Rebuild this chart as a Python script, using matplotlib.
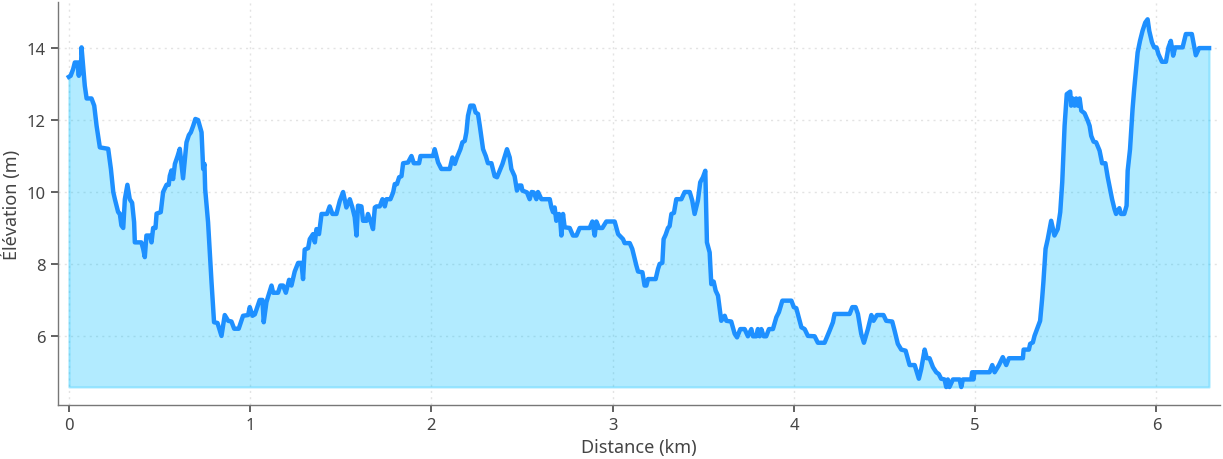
import matplotlib
matplotlib.use("Agg")
import matplotlib.pyplot as plt
import numpy as np

plt.rcParams['font.family'] = ['Noto Sans', 'DejaVu Sans']

distance_km = [
    0.000, 0.010, 0.024, 0.033, 0.048, 0.055, 0.060, 0.066, 0.070, 0.079, 0.088, 0.098,
    0.125, 0.140, 0.153, 0.171, 0.217, 0.232, 0.245, 0.254, 0.272, 0.281, 0.290, 0.300,
    0.309, 0.323, 0.336, 0.349, 0.360, 0.364, 0.400, 0.410, 0.419, 0.428, 0.447, 0.456,
    0.465, 0.478, 0.484, 0.507, 0.520, 0.539, 0.551, 0.557, 0.566, 0.575, 0.585, 0.600,
    0.612, 0.630, 0.649, 0.662, 0.673, 0.686, 0.698, 0.713, 0.732, 0.741, 0.748, 0.752,
    0.768, 0.787, 0.801, 0.820, 0.833, 0.842, 0.860, 0.879, 0.897, 0.912, 0.937, 0.961,
    0.989, 0.998, 1.013, 1.026, 1.053, 1.068, 1.075, 1.090, 1.118, 1.127, 1.154, 1.167,
    1.182, 1.197, 1.215, 1.228, 1.246, 1.265, 1.283, 1.292, 1.301, 1.320, 1.329, 1.347,
    1.357, 1.366, 1.380, 1.394, 1.424, 1.439, 1.454, 1.476, 1.495, 1.513, 1.531, 1.550,
    1.564, 1.577, 1.587, 1.595, 1.614, 1.623, 1.642, 1.650, 1.664, 1.678, 1.688, 1.697,
    1.715, 1.730, 1.743, 1.752, 1.774, 1.789, 1.798, 1.810, 1.822, 1.835, 1.844, 1.871,
    1.890, 1.903, 1.932, 1.940, 1.991, 2.009, 2.018, 2.037, 2.055, 2.101, 2.116, 2.129,
    2.141, 2.160, 2.171, 2.184, 2.193, 2.202, 2.215, 2.233, 2.244, 2.257, 2.267, 2.285,
    2.300, 2.312, 2.331, 2.349, 2.362, 2.392, 2.417, 2.432, 2.441, 2.459, 2.472, 2.483,
    2.496, 2.502, 2.527, 2.542, 2.553, 2.564, 2.579, 2.588, 2.607, 2.653, 2.662, 2.671,
    2.680, 2.689, 2.704, 2.711, 2.717, 2.726, 2.735, 2.763, 2.781, 2.800, 2.818, 2.873,
    2.888, 2.901, 2.910, 2.925, 2.943, 2.965, 3.011, 3.030, 3.057, 3.066, 3.094, 3.108,
    3.131, 3.140, 3.164, 3.176, 3.186, 3.195, 3.237, 3.250, 3.259, 3.274, 3.281, 3.292,
    3.305, 3.314, 3.324, 3.338, 3.351, 3.379, 3.397, 3.425, 3.439, 3.452, 3.470, 3.483,
    3.498, 3.511, 3.520, 3.535, 3.544, 3.557, 3.568, 3.581, 3.599, 3.618, 3.627, 3.654,
    3.673, 3.686, 3.704, 3.728, 3.746, 3.765, 3.774, 3.792, 3.801, 3.811, 3.820, 3.833,
    3.847, 3.862, 3.884, 3.903, 3.917, 3.936, 3.986, 3.999, 4.013, 4.041, 4.059, 4.077,
    4.114, 4.132, 4.169, 4.197, 4.215, 4.224, 4.307, 4.322, 4.340, 4.353, 4.371, 4.386,
    4.408, 4.427, 4.439, 4.458, 4.494, 4.509, 4.542, 4.555, 4.573, 4.592, 4.616, 4.629,
    4.638, 4.666, 4.689, 4.702, 4.721, 4.733, 4.748, 4.767, 4.785, 4.799, 4.812, 4.831,
    4.840, 4.849, 4.858, 4.877, 4.914, 4.923, 4.932, 4.978, 4.983, 4.990, 4.996, 5.079,
    5.094, 5.107, 5.131, 5.152, 5.171, 5.186, 5.263, 5.267, 5.296, 5.303, 5.318, 5.327,
    5.345, 5.358, 5.369, 5.376, 5.388, 5.400, 5.419, 5.437, 5.455, 5.469, 5.480, 5.493,
    5.505, 5.524, 5.529, 5.538, 5.548, 5.557, 5.566, 5.576, 5.585, 5.603, 5.621, 5.631,
    5.640, 5.653, 5.667, 5.686, 5.700, 5.718, 5.731, 5.744, 5.755, 5.768, 5.777, 5.795,
    5.804, 5.822, 5.835, 5.841, 5.854, 5.868, 5.877, 5.896, 5.909, 5.923, 5.938, 5.951,
    5.960, 5.975, 5.987, 6.000, 6.011, 6.030, 6.052, 6.066, 6.079, 6.092, 6.103, 6.144,
    6.162, 6.195, 6.202, 6.217, 6.235, 6.290,
]

elevation_m = [
    13.20, 13.23, 13.42, 13.60, 13.60, 13.23, 13.60, 13.30, 14.02, 13.50, 12.95, 12.60,
    12.60, 12.40, 11.84, 11.24, 11.20, 10.64, 10.00, 9.80, 9.44, 9.40, 9.07, 9.00,
    9.80, 10.20, 9.80, 9.70, 9.16, 8.60, 8.60, 8.42, 8.19, 8.79, 8.79, 8.60,
    9.00, 9.00, 9.40, 9.44, 10.00, 10.20, 10.20, 10.45, 10.60, 10.36, 10.78, 11.00,
    11.20, 10.38, 11.38, 11.58, 11.66, 11.84, 12.03, 12.00, 11.66, 10.64, 10.78, 10.08,
    9.16, 7.50, 6.38, 6.36, 6.15, 6.00, 6.58, 6.42, 6.40, 6.20, 6.20, 6.56,
    6.58, 6.80, 6.56, 6.60, 7.00, 7.00, 6.38, 6.94, 7.40, 7.20, 7.20, 7.40,
    7.40, 7.20, 7.56, 7.40, 7.79, 8.03, 8.03, 7.58, 8.40, 8.44, 8.69, 8.83,
    8.60, 8.97, 8.83, 9.39, 9.39, 9.60, 9.39, 9.39, 9.76, 10.00, 9.57, 9.80,
    9.57, 9.30, 8.79, 9.62, 9.60, 9.20, 9.20, 9.39, 9.20, 8.97, 9.57, 9.60,
    9.60, 9.80, 9.60, 9.80, 9.80, 9.99, 10.22, 10.22, 10.41, 10.44, 10.80, 10.82,
    11.00, 10.80, 10.80, 11.00, 11.00, 11.00, 11.19, 10.82, 10.64, 10.64, 10.96, 10.78,
    10.96, 11.19, 11.38, 11.42, 11.66, 12.12, 12.40, 12.40, 12.21, 12.17, 11.84, 11.19,
    11.00, 10.80, 10.80, 10.44, 10.41, 10.78, 11.19, 10.96, 10.64, 10.44, 10.04, 10.18,
    10.18, 10.04, 9.99, 9.80, 10.00, 9.99, 9.80, 10.00, 9.80, 9.80, 9.57, 9.44,
    9.57, 9.20, 9.39, 9.20, 8.79, 9.39, 9.02, 9.00, 8.79, 8.79, 9.00, 9.00,
    9.18, 8.79, 9.18, 9.00, 9.00, 9.18, 9.18, 8.83, 8.69, 8.58, 8.58, 8.42,
    7.95, 7.79, 7.77, 7.40, 7.40, 7.58, 7.58, 7.86, 8.00, 8.03, 8.69, 8.81,
    9.00, 9.05, 9.39, 9.42, 9.80, 9.80, 10.00, 10.00, 9.76, 9.39, 9.76, 10.27,
    10.41, 10.59, 8.60, 8.32, 7.44, 7.51, 7.26, 7.12, 6.42, 6.56, 6.42, 6.40,
    6.06, 5.96, 6.19, 6.19, 5.99, 6.19, 5.99, 5.99, 6.19, 5.99, 6.19, 5.99,
    5.99, 6.19, 6.19, 6.52, 6.66, 6.98, 6.98, 6.80, 6.77, 6.24, 6.19, 6.00,
    5.99, 5.81, 5.81, 6.15, 6.38, 6.61, 6.61, 6.80, 6.80, 6.61, 6.06, 5.81,
    6.19, 6.58, 6.42, 6.58, 6.58, 6.42, 6.40, 6.15, 5.78, 5.62, 5.59, 5.36,
    5.19, 5.19, 4.81, 5.08, 5.62, 5.38, 5.38, 5.13, 4.99, 4.94, 4.81, 4.79,
    4.58, 4.79, 4.58, 4.79, 4.79, 4.58, 4.79, 4.79, 4.99, 4.79, 4.99, 4.99,
    5.19, 4.99, 5.19, 5.41, 5.19, 5.38, 5.38, 5.62, 5.62, 5.78, 5.82, 6.00,
    6.24, 6.42, 7.03, 7.49, 8.42, 8.69, 9.20, 8.79, 8.97, 9.44, 10.27, 11.84,
    12.72, 12.79, 12.40, 12.60, 12.40, 12.60, 12.40, 12.60, 12.26, 12.19, 11.98, 11.84,
    11.56, 11.40, 11.38, 11.15, 10.80, 10.80, 10.41, 10.08, 9.80, 9.53, 9.39, 9.55,
    9.39, 9.39, 9.62, 10.59, 11.19, 12.31, 12.86, 13.88, 14.20, 14.48, 14.71, 14.80,
    14.48, 14.16, 14.02, 14.02, 13.83, 13.62, 13.62, 14.02, 14.20, 13.79, 14.02, 14.02,
    14.39, 14.39, 14.20, 13.80, 14.00, 14.00,
]

x_ticks = [0, 1, 2, 3, 4, 5, 6]
y_ticks = [6, 8, 10, 12, 14]

fig = plt.figure(figsize=(12.23, 4.60), dpi=100)
ax = fig.add_axes([0.0474, 0.1174, 0.9501, 0.876])

x = np.array(distance_km)
y = np.array(elevation_m)
base = y.min()

ax.fill_between(x, y, base, facecolor='deepskyblue', edgecolor='deepskyblue',
                alpha=0.3, linewidth=1.5, zorder=1)
ax.plot(x, y, color='#1e90ff', linewidth=3.2, solid_joinstyle='round', zorder=2)

ax.set_xlim(-0.06, 6.35)
ax.set_ylim(4.08, 15.28)
ax.set_xticks(x_ticks)
ax.set_yticks(y_ticks)
ax.grid(True, linestyle=(0, (1.5, 3)), color='#dddddd', linewidth=1.0, alpha=0.8)
ax.set_axisbelow(True)

for s in ['top', 'right']:
    ax.spines[s].set_visible(False)
for s in ['left', 'bottom']:
    ax.spines[s].set_color('#777777')
    ax.spines[s].set_linewidth(1.0)

ax.tick_params(axis='both', direction='out', length=5, width=1.3, color='#555555',
               labelcolor='#444444', labelsize=12, pad=4)
ax.set_xlabel('Distance (km)', fontsize=13, color='#444444', labelpad=3)
ax.set_ylabel('Élévation (m)', fontsize=13, color='#444444', labelpad=4)

fig.savefig('out.png', dpi=100)
